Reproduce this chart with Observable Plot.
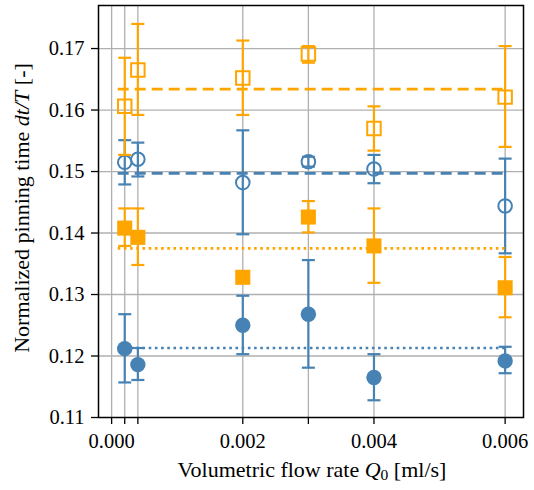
<!DOCTYPE html>
<html>
<head>
<meta charset="utf-8">
<script src="https://cdn.jsdelivr.net/npm/d3@7"></script>
<script src="https://cdn.jsdelivr.net/npm/@observablehq/plot@0.6"></script>
<style>
  html, body { margin: 0; padding: 0; background: #fff; }
  #chart svg { display: block; }
  #chart svg, #chart svg text { font-family: "Liberation Serif", "Times New Roman", Tinos, "DejaVu Serif", serif !important; }
</style>
</head>
<body>
<div id="chart"></div>
<script>
// ---- data ----
const flowRates = [0.0002, 0.0004, 0.002, 0.003, 0.004, 0.006];

const blueOpenY  = [0.1515, 0.1520, 0.1482, 0.1516, 0.1504, 0.1444];
const blueOpenLo = [0.1479, 0.1492, 0.1398, 0.1508, 0.1481, 0.1367];
const blueOpenHi = [0.1551, 0.1547, 0.1567, 0.1524, 0.1527, 0.1521];
const blueOpenMean = 0.1497;

const orangeOpenY  = [0.1606, 0.1665, 0.1652, 0.1691, 0.1570, 0.1621];
const orangeOpenLo = [0.1527, 0.1592, 0.1592, 0.1677, 0.1534, 0.1540];
const orangeOpenHi = [0.1685, 0.1740, 0.1713, 0.1704, 0.1606, 0.1704];
const orangeOpenMean = 0.1634;

const orangeFilledY  = [0.1408, 0.1393, 0.1328, 0.1426, 0.1379, 0.1311];
const orangeFilledLo = [0.1379, 0.1348, 0.1328, 0.1401, 0.1319, 0.1263];
const orangeFilledHi = [0.1440, 0.1440, 0.1328, 0.1452, 0.1440, 0.1361];
const orangeFilledMean = 0.1375;

const blueFilledY  = [0.1212, 0.1186, 0.1250, 0.1268, 0.1165, 0.1192];
const blueFilledLo = [0.1157, 0.1161, 0.1203, 0.1181, 0.1128, 0.1172];
const blueFilledHi = [0.1268, 0.1213, 0.1298, 0.1356, 0.1203, 0.1215];
const blueFilledMean = 0.1213;

const meanRange = [0.0001, 0.006];

const xTicks = [0, 0.0002, 0.0004, 0.002, 0.003, 0.004, 0.006];
const xTickLabels = [0, 0.002, 0.004, 0.006];
const yTicks = [0.11, 0.12, 0.13, 0.14, 0.15, 0.16, 0.17];

const BLUE = "#4682b4";
const ORANGE = "#ffa500";
const FONT = "Liberation Serif, Times New Roman, Tinos, DejaVu Serif, serif";

// ---- helpers ----
function rows(y, lo, hi) {
  return flowRates.map((x, i) => ({x, y: y[i], lo: lo[i], hi: hi[i]}));
}
const capSymbol = {
  draw(ctx, size) {
    const r = Math.sqrt(size / Math.PI);
    ctx.moveTo(-r, 0);
    ctx.lineTo(r, 0);
  }
};
function errorMarks(data, color) {
  return [
    Plot.ruleX(data, {x: "x", y1: "lo", y2: "hi", stroke: color, strokeWidth: 2.2}),
    Plot.dot(data, {x: "x", y: "lo", symbol: capSymbol, r: 6.5, stroke: color, strokeWidth: 2.2}),
    Plot.dot(data, {x: "x", y: "hi", symbol: capSymbol, r: 6.5, stroke: color, strokeWidth: 2.2})
  ];
}
function meanLine(value, color, dash) {
  return Plot.ruleY([value], {x1: meanRange[0], x2: meanRange[1], stroke: color, strokeWidth: 2.6, strokeDasharray: dash});
}

const blueOpen = rows(blueOpenY, blueOpenLo, blueOpenHi);
const orangeOpen = rows(orangeOpenY, orangeOpenLo, orangeOpenHi);
const orangeFilled = rows(orangeFilledY, orangeFilledLo, orangeFilledHi);
const blueFilled = rows(blueFilledY, blueFilledLo, blueFilledHi);

const chart = Plot.plot({
  width: 534,
  height: 490,
  marginLeft: 98,
  marginRight: 11,
  marginTop: 5,
  marginBottom: 73,
  style: {fontFamily: FONT, fontSize: "20.5px", color: "black", background: "white"},
  x: {domain: [-0.0002, 0.00628]},
  y: {domain: [0.11, 0.177]},
  marks: [
    Plot.gridX(xTicks, {stroke: "#b0b0b0", strokeOpacity: 1, strokeWidth: 1.3}),
    Plot.gridY(yTicks.slice(1), {stroke: "#b0b0b0", strokeOpacity: 1, strokeWidth: 1.3}),

    ...errorMarks(blueOpen, BLUE),
    Plot.dot(blueOpen, {x: "x", y: "y", r: 6.8, stroke: BLUE, fill: "none", strokeWidth: 2}),

    ...errorMarks(orangeOpen, ORANGE),
    Plot.dot(orangeOpen, {x: "x", y: "y", symbol: "square", r: 7.6, stroke: ORANGE, fill: "none", strokeWidth: 2}),

    ...errorMarks(orangeFilled, ORANGE),
    Plot.dot(orangeFilled, {x: "x", y: "y", symbol: "square", r: 8.5, fill: ORANGE, stroke: "none"}),

    ...errorMarks(blueFilled, BLUE),
    Plot.dot(blueFilled, {x: "x", y: "y", r: 7.7, fill: BLUE, stroke: "none"}),

    meanLine(blueOpenMean, BLUE, "11,6"),
    meanLine(orangeOpenMean, ORANGE, "11,6"),
    meanLine(orangeFilledMean, ORANGE, "2.6,3.6"),
    meanLine(blueFilledMean, BLUE, "2.6,3.6"),

    Plot.frame({stroke: "black", strokeWidth: 1.5}),
    Plot.axisY({ticks: yTicks, tickFormat: d3.format(".2f"), tickSize: 7, tickPadding: 7, label: null, strokeWidth: 1.3}),
    Plot.axisX({ticks: xTicks, tickFormat: d => xTickLabels.includes(d) ? d3.format(".3f")(d) : "", tickSize: 7, tickPadding: 9, label: null, strokeWidth: 1.3})
  ]
});

document.getElementById("chart").appendChild(chart);

// ---- axis titles with italic math parts ----
const svg = d3.select(chart);
const xt = svg.append("text")
  .attr("x", 312).attr("y", 477)
  .attr("text-anchor", "middle")
  .style("font-family", FONT).attr("font-size", 22).attr("fill", "black");
xt.append("tspan").text("Volumetric flow rate ");
xt.append("tspan").attr("font-style", "italic").text("Q");
xt.append("tspan").attr("font-size", 15.5).attr("dy", 3).text("0");
xt.append("tspan").attr("dy", -3).text(" [ml/s]");

const yt = svg.append("text")
  .attr("transform", "translate(29,208) rotate(-90)")
  .attr("text-anchor", "middle")
  .style("font-family", FONT).attr("font-size", 22).attr("fill", "black");
yt.append("tspan").text("Normalized pinning time ");
yt.append("tspan").attr("font-style", "italic").text("dt/T");
yt.append("tspan").text(" [-]");
</script>
</body>
</html>
